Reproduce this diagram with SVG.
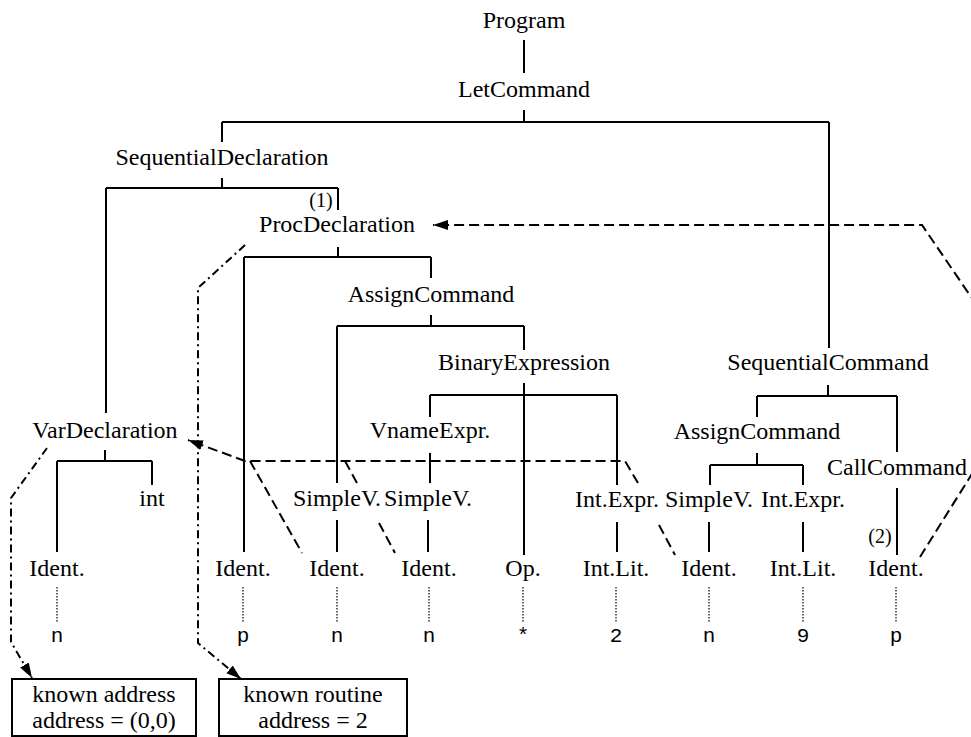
<svg xmlns="http://www.w3.org/2000/svg" width="971" height="737" viewBox="0 0 971 737">
<defs>
<marker id="ah" markerWidth="16" markerHeight="12" refX="15" refY="5" orient="auto" markerUnits="userSpaceOnUse"><path d="M0,0 L15,5 L0,10 z" fill="#000"/></marker>
</defs>
<style>
text{font-family:"Liberation Serif","Times New Roman",serif;font-size:24px;fill:#000;text-anchor:middle}
.small{font-size:20px}
.mono{font-family:"Liberation Mono","Courier New",monospace;font-size:21px}
.t{stroke:#000;stroke-width:2;fill:none}
.dot{stroke:#000;stroke-width:1.2;stroke-dasharray:1.5 1.5;fill:none}
.dash{stroke:#000;stroke-width:2;stroke-dasharray:10 5;fill:none}
.dd{stroke:#000;stroke-width:2;stroke-dasharray:8 4 2 4;fill:none}
.box{fill:#fff;stroke:#000;stroke-width:2}
</style>
<rect width="971" height="737" fill="#fff"/>
<g id="connectors">
<path class="t" d="M524 40 V73 M524 110 V122 M222 122 H829 M222 122 V142 M829 122 V348
M222 178 V188 M106 188 H338 M106 188 V413 M338 188 V210
M338 247 V257 M244 257 H431 M244 257 V552 M431 257 V278
M431 315 V326 M337 326 H524 M337 326 V483 M524 326 V350
M524 383 V555 M430 395 H617 M430 395 V417 M617 395 V485
M430 453 V483
M105 450 V461 M57 461 H152 M57 461 V552 M152 461 V485
M337 520 V552 M428 520 V552
M828 385 V396 M757 396 H897 M757 396 V417 M897 396 V452
M757 453 V465 M710 465 H803 M710 465 V485 M803 465 V485
M897 488 V555
M617 522 V552 M709 522 V552 M803 522 V552"/>
<path class="dot" d="M57 587 V622 M243 587 V622 M337 587 V622 M429 587 V622 M523 587 V622 M616 587 V622 M709 587 V622 M803 587 V622 M896 587 V622"/>
<path class="dash" d="M920 557 L980 461 L980 310 L922 225 L433 225" marker-end="url(#ah)"/>
<path class="dash" d="M638 483 L625 461 L245 461 L188 440" marker-end="url(#ah)"/>
<path class="dash" d="M659 525 L675 555"/>
<path class="dash" d="M250 461 L302 553"/>
<path class="dash" d="M345 461 L357 483 M379 523 L395 553"/>
<path class="dd" d="M47 448 L11 498 L11 642 L32 678" marker-end="url(#ah)"/>
<path class="dd" d="M245 245 L198 288 L198 643 L241 679" marker-end="url(#ah)"/>
</g>
<g id="program"><text x="524" y="28">Program</text></g>
<g id="letcommand"><text x="524" y="97">LetCommand</text></g>
<g id="seqdecl"><text x="222" y="165">SequentialDeclaration</text></g>
<g id="label1"><text class="small" x="321" y="207">(1)</text></g>
<g id="procdecl"><text x="337" y="232">ProcDeclaration</text></g>
<g id="assign1"><text x="431" y="302">AssignCommand</text></g>
<g id="binexpr"><text x="524" y="370">BinaryExpression</text></g>
<g id="seqcmd"><text x="828" y="370">SequentialCommand</text></g>
<g id="vardecl"><text x="105" y="438">VarDeclaration</text></g>
<g id="vname"><text x="430" y="438">VnameExpr.</text></g>
<g id="assign2"><text x="757" y="439">AssignCommand</text></g>
<g id="callcmd"><text x="897" y="475">CallCommand</text></g>
<g id="int"><text x="152" y="506">int</text></g>
<g id="simplev1"><text x="337" y="506">SimpleV.</text></g>
<g id="simplev2"><text x="428" y="506">SimpleV.</text></g>
<g id="intexpr1"><text x="617" y="507">Int.Expr.</text></g>
<g id="simplev3"><text x="709" y="507">SimpleV.</text></g>
<g id="intexpr2"><text x="803" y="507">Int.Expr.</text></g>
<g id="label2"><text class="small" x="880" y="543">(2)</text></g>
<g id="ident1"><text x="57" y="576">Ident.</text><text class="mono" x="57" y="642">n</text></g>
<g id="ident2"><text x="243" y="576">Ident.</text><text class="mono" x="243" y="642">p</text></g>
<g id="ident3"><text x="337" y="576">Ident.</text><text class="mono" x="337" y="642">n</text></g>
<g id="ident4"><text x="429" y="576">Ident.</text><text class="mono" x="429" y="642">n</text></g>
<g id="op"><text x="523" y="576">Op.</text><text class="mono" x="523" y="642">*</text></g>
<g id="intlit1"><text x="616" y="576">Int.Lit.</text><text class="mono" x="616" y="642">2</text></g>
<g id="ident5"><text x="709" y="576">Ident.</text><text class="mono" x="709" y="642">n</text></g>
<g id="intlit2"><text x="803" y="576">Int.Lit.</text><text class="mono" x="803" y="642">9</text></g>
<g id="ident6"><text x="896" y="576">Ident.</text><text class="mono" x="896" y="642">p</text></g>
<g id="box1"><rect class="box" x="12" y="679" width="184" height="57"/><text x="104" y="702">known address</text><text x="104" y="728">address = (0,0)</text></g>
<g id="box2"><rect class="box" x="219" y="679" width="188" height="57"/><text x="313" y="702">known routine</text><text x="313" y="728">address = 2</text></g>
</svg>
